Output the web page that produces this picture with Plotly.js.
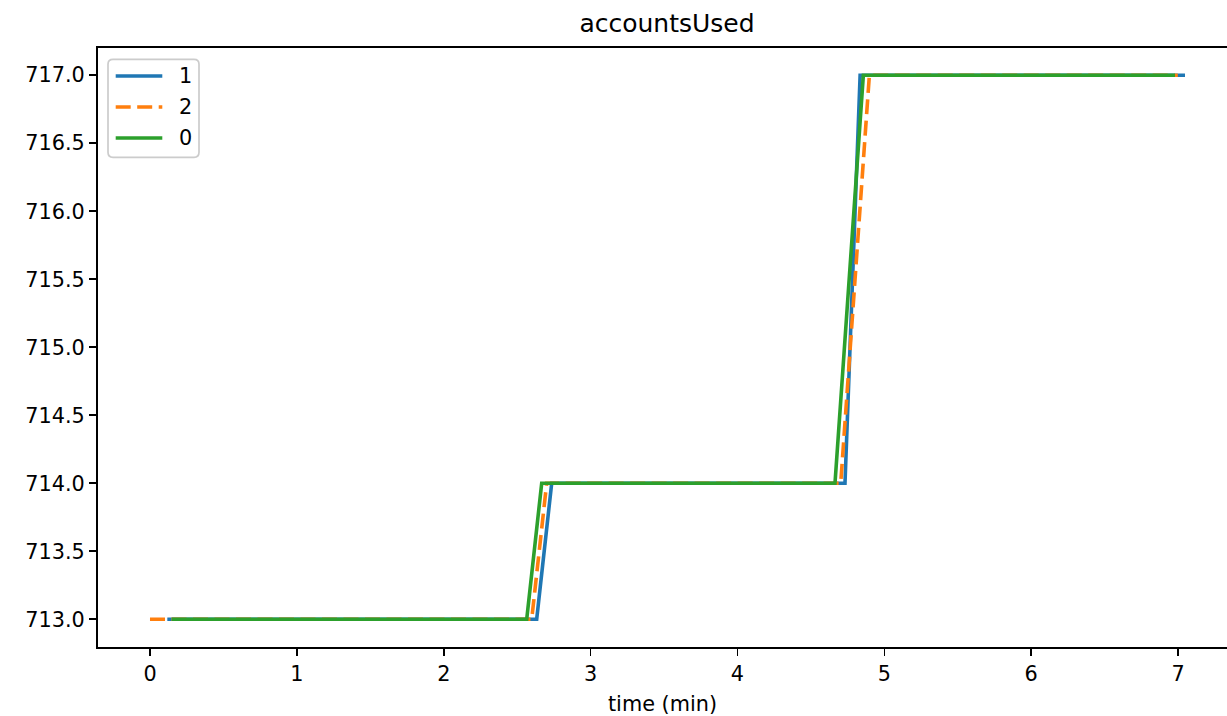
<!DOCTYPE html>
<html>
<head>
<meta charset="utf-8">
<script src="https://cdn.plot.ly/plotly-3.0.1.min.js"></script>
<style>html,body{margin:0;padding:0;background:#fff;}#chart{width:1227px;height:716px;}</style>
</head>
<body>
<div id="chart"></div>
<script>
// series "1"
const time1 = [0.118, 2.633, 2.735, 4.732, 4.835, 7.047];
const used1 = [713, 713, 714, 714, 717, 717];
// series "2"
const time2 = [0.0, 2.599, 2.701, 4.703, 4.898, 6.998];
const used2 = [713, 713, 714, 714, 717, 717];
// series "0"
const time0 = [0.148, 2.565, 2.667, 4.664, 4.857, 6.979];
const used0 = [713, 713, 714, 714, 717, 717];

const seriesNames = ['1', '2', '0'];
const seriesColors = ['#1f77b4', '#ff7f0e', '#2ca02c'];
const seriesDash = ['solid', '15px,6.5px', 'solid'];
const yTicks = [713.0, 713.5, 714.0, 714.5, 715.0, 715.5, 716.0, 716.5, 717.0];
const xTicks = [0, 1, 2, 3, 4, 5, 6, 7];

const font = {family: 'DejaVu Sans, sans-serif', size: 20.8, color: '#000'};
const LW = 3.6;

const xs = [time1, time2, time0];
const ys = [used1, used2, used0];
const traces = xs.map((x, i) => ({
  x: x, y: ys[i], name: seriesNames[i], mode: 'lines', showlegend: false,
  line: {color: seriesColors[i], width: LW, dash: seriesDash[i]}
}));

// plot area in pixels (for legend placement)
const PL = 98, PR = 1227, PT = 47.7, PB = 646.7;
const px = v => (v - PL) / (PR - PL);
const py = v => (PB - v) / (PB - PT);

// rounded legend frame
const bx0 = 108, bx1 = 199, by0 = 59, by1 = 157, r = 5;
const framePath = [
  `M ${px(bx0 + r)} ${py(by0)}`, `L ${px(bx1 - r)} ${py(by0)}`, `Q ${px(bx1)} ${py(by0)} ${px(bx1)} ${py(by0 + r)}`,
  `L ${px(bx1)} ${py(by1 - r)}`, `Q ${px(bx1)} ${py(by1)} ${px(bx1 - r)} ${py(by1)}`,
  `L ${px(bx0 + r)} ${py(by1)}`, `Q ${px(bx0)} ${py(by1)} ${px(bx0)} ${py(by1 - r)}`,
  `L ${px(bx0)} ${py(by0 + r)}`, `Q ${px(bx0)} ${py(by0)} ${px(bx0 + r)} ${py(by0)}`, 'Z'
].join(' ');

const shapes = [{
  type: 'path', xref: 'paper', yref: 'paper', path: framePath,
  fillcolor: 'rgba(255,255,255,0.8)', line: {color: '#cccccc', width: 1.7}, layer: 'above'
}];
const annotations = [];
const rowY = [75.7, 106.7, 137.7];
seriesNames.forEach((n, i) => {
  shapes.push({
    type: 'line', xref: 'paper', yref: 'paper', layer: 'above',
    x0: px(115.7), x1: px(162.3), y0: py(rowY[i]), y1: py(rowY[i]),
    line: {color: seriesColors[i], width: LW, dash: seriesDash[i]}
  });
  annotations.push({
    xref: 'paper', yref: 'paper', x: px(177), y: py(rowY[i]), xanchor: 'left', yanchor: 'middle',
    text: n, showarrow: false, font: font
  });
});

const layout = {
  width: 1227, height: 716,
  margin: {l: 98, r: 0, t: 47.7, b: 69.3},
  paper_bgcolor: '#fff', plot_bgcolor: '#fff',
  font: font,
  showlegend: false,
  title: {text: 'accountsUsed', font: {family: font.family, size: 25, color: '#000'},
          x: (98 + 1236) / 2 / 1227, xref: 'container', xanchor: 'center',
          y: 1 - 23 / 716, yref: 'container', yanchor: 'middle'},
  xaxis: {
    range: [-0.354, 7.333], tickvals: xTicks, ticktext: xTicks.map(String),
    showgrid: false, zeroline: false, showline: true, linecolor: '#000', linewidth: 1.67,
    mirror: true, ticks: 'outside', ticklen: 7.3, tickwidth: 1.67, tickcolor: '#000',
    tickfont: font,
    title: {text: 'time (min)', font: font, standoff: 13}
  },
  yaxis: {
    range: [712.796, 717.2], tickvals: yTicks, ticktext: yTicks.map(v => v.toFixed(1)),
    showgrid: false, zeroline: false, showline: true, linecolor: '#000', linewidth: 1.67,
    ticks: 'outside', ticklen: 7.3, tickwidth: 1.67, tickcolor: '#000',
    tickfont: font
  },
  shapes: shapes,
  annotations: annotations
};

Plotly.newPlot('chart', traces, layout, {displayModeBar: false, staticPlot: true});
</script>
</body>
</html>
